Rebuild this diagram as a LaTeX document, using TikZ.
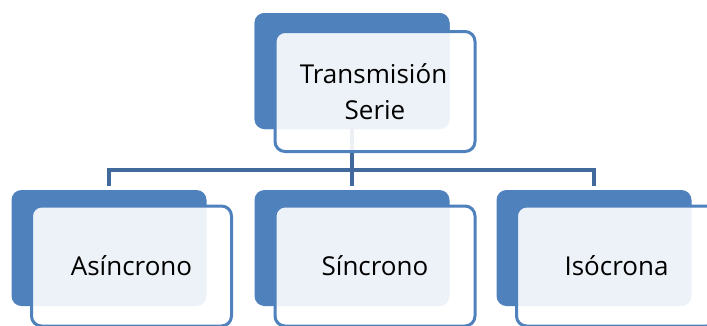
\documentclass[tikz,border=0pt]{standalone}
\usepackage{fontspec}
\setmainfont{Open Sans}
\definecolor{accent}{HTML}{4F81BD}
\definecolor{connc}{HTML}{41699B}
\begin{document}
\begin{tikzpicture}[x=1pt,y=-1pt,
  backbox/.style={rectangle, rounded corners=10pt, fill=accent, draw=none,
    minimum width=195pt, minimum height=116pt, inner sep=0pt},
  frontbox/.style={rectangle, rounded corners=10pt, fill=white, fill opacity=0.9,
    text opacity=1, draw=accent, line width=3pt, minimum width=200pt,
    minimum height=120pt, inner sep=0pt, align=center, text=black,
    font=\fontsize{26}{36}\selectfont},
  conn/.style={draw=connc, line width=4pt}]
\useasboundingbox (0,0) rectangle (707,325);
\clip (0,0) rectangle (707,325);
\coordinate (hub) at (352,170);
\node[backbox] (topb) at (352,71) {};
\node[backbox] (c1b) at (109,248) {};
\node[backbox] (c2b) at (352,248) {};
\node[backbox] (c3b) at (594,248) {};
% connectors
\draw[conn] (topb.center) -- (hub);
\draw[conn, shorten >=4pt] (hub) -| (c1b.north);
\draw[conn, shorten >=4pt] (hub) -| (c3b.north);
\draw[conn, shorten >=4pt] (hub) -- (c2b.north);
% cover the top connector's start
\node[backbox] at (topb) {};
% front boxes
\node[frontbox] (topf) at (375,91.5) {\hspace*{-3pt}Transmisión\\Serie};
\node[frontbox] (c1f) at (131.5,266) {Asíncrono};
\node[frontbox] (c2f) at (375,266) {Síncrono};
\node[frontbox] (c3f) at (616.5,266) {Isócrona};
\end{tikzpicture}
\end{document}
